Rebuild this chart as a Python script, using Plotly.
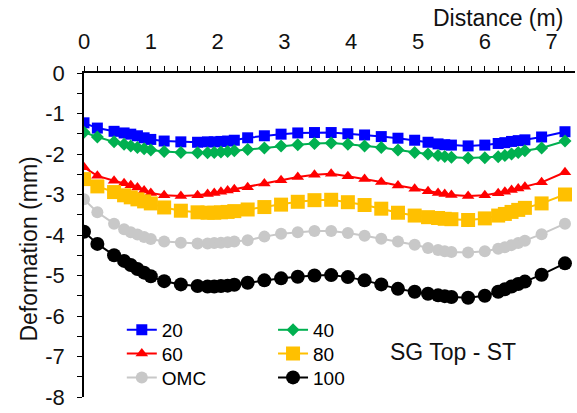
import plotly.graph_objects as go

distance = [0, 0.2, 0.45, 0.6, 0.7, 0.8, 0.9, 1.0, 1.2, 1.45, 1.7, 1.85, 1.95, 2.05, 2.15, 2.25,
            2.45, 2.7, 2.95, 3.2, 3.45, 3.7, 3.95, 4.2, 4.45, 4.7, 4.95, 5.15, 5.3, 5.4, 5.5,
            5.75, 6.0, 6.2, 6.3, 6.4, 6.5, 6.6, 6.85, 7.2]

s20 = [-1.23, -1.36, -1.44, -1.48, -1.51, -1.55, -1.60, -1.64, -1.68, -1.70, -1.71, -1.70, -1.70,
       -1.69, -1.68, -1.66, -1.60, -1.55, -1.51, -1.48, -1.47, -1.47, -1.50, -1.53, -1.57, -1.61,
       -1.66, -1.71, -1.75, -1.77, -1.78, -1.80, -1.78, -1.74, -1.72, -1.69, -1.67, -1.65, -1.58, -1.45]

s40 = [-1.46, -1.58, -1.70, -1.76, -1.80, -1.84, -1.87, -1.90, -1.94, -1.96, -1.97, -1.97, -1.96,
       -1.95, -1.94, -1.92, -1.89, -1.85, -1.80, -1.77, -1.74, -1.73, -1.76, -1.80, -1.84, -1.90,
       -1.96, -2.00, -2.04, -2.06, -2.08, -2.10, -2.09, -2.07, -2.04, -2.00, -1.96, -1.92, -1.85, -1.68]

s60 = [-2.33, -2.54, -2.66, -2.72, -2.77, -2.83, -2.90, -2.96, -3.02, -3.04, -3.02, -2.99, -2.96,
       -2.93, -2.90, -2.87, -2.82, -2.73, -2.65, -2.57, -2.51, -2.49, -2.55, -2.62, -2.69, -2.78,
       -2.86, -2.92, -2.96, -2.99, -3.01, -3.04, -3.02, -2.97, -2.93, -2.89, -2.85, -2.81, -2.70, -2.45]

s80 = [-2.62, -2.80, -2.94, -3.02, -3.07, -3.12, -3.17, -3.22, -3.32, -3.40, -3.44, -3.45, -3.45,
       -3.44, -3.43, -3.41, -3.37, -3.31, -3.25, -3.18, -3.14, -3.13, -3.19, -3.26, -3.35, -3.45,
       -3.52, -3.56, -3.58, -3.60, -3.61, -3.63, -3.59, -3.52, -3.48, -3.43, -3.38, -3.33, -3.22, -3.00]

omc = [-3.12, -3.44, -3.72, -3.86, -3.93, -3.99, -4.05, -4.10, -4.16, -4.19, -4.21, -4.21, -4.20,
       -4.19, -4.18, -4.16, -4.13, -4.04, -3.97, -3.93, -3.90, -3.90, -3.95, -4.02, -4.09, -4.16,
       -4.24, -4.32, -4.37, -4.40, -4.42, -4.43, -4.40, -4.34, -4.30, -4.25, -4.20, -4.14, -3.98, -3.72]

s100 = [-3.92, -4.22, -4.50, -4.64, -4.74, -4.84, -4.93, -5.02, -5.14, -5.22, -5.26, -5.27, -5.27,
        -5.26, -5.25, -5.23, -5.18, -5.12, -5.07, -5.03, -5.00, -4.99, -5.04, -5.12, -5.22, -5.33,
        -5.40, -5.45, -5.49, -5.51, -5.53, -5.55, -5.50, -5.40, -5.34, -5.27, -5.21, -5.15, -4.98, -4.70]

names = ["20", "40", "60", "80", "OMC", "100"]
values = [s20, s40, s60, s80, omc, s100]

x_ticks = [0, 1, 2, 3, 4, 5, 6, 7]
y_ticks = [0, -1, -2, -3, -4, -5, -6, -7, -8]
y_ticktext = ["0", "-1", "-2", "-3", "-4", "-5", "-6", "-7", "-8"]

colors = ["#0000FF", "#00B050", "#FF0000", "#FFC000", "#C8C8C8", "#000000"]
symbols = ["square", "diamond", "triangle-up", "square", "circle", "circle"]
sizes = [11, 10, 11, 14, 12, 14]

# legend positions (paper coords): 20,40 / 60,80 / OMC,100
leg_x = [0.077, 0.385, 0.077, 0.385, 0.077, 0.385]
leg_y = [0.207, 0.207, 0.134, 0.134, 0.060, 0.060]

FONT = "Arial, Liberation Sans, sans-serif"

fig = go.Figure()
for i, (n, v, c, s, sz) in enumerate(zip(names, values, colors, symbols, sizes)):
    fig.add_trace(go.Scatter(
        x=distance, y=v, name=n, mode="lines+markers",
        line=dict(color=c, width=2),
        marker=dict(color=c, symbol=s, size=sz, line=dict(width=0)),
        legend="legend" if i == 0 else f"legend{i+1}",
    ))

layout_legends = {}
for i in range(6):
    key = "legend" if i == 0 else f"legend{i+1}"
    layout_legends[key] = dict(
        x=leg_x[i], y=leg_y[i], xanchor="left", yanchor="middle",
        bgcolor="rgba(0,0,0,0)", borderwidth=0,
        font=dict(family=FONT, size=19, color="#000"),
        itemwidth=30,
    )

fig.update_layout(
    width=577, height=413,
    margin=dict(l=84, r=2, t=73, b=16),
    paper_bgcolor="white", plot_bgcolor="white",
    showlegend=True,
    font=dict(family=FONT, size=22, color="#000"),
    **layout_legends,
    xaxis=dict(
        side="top", range=[0, 7.35], tickvals=x_ticks,
        showgrid=False, zeroline=False,
        showline=True, linecolor="#000", linewidth=1.5,
        ticks="outside", ticklen=5, tickcolor="#000", tickwidth=1.2,
        minor=dict(dtick=0.2, tick0=0, ticks="outside", ticklen=5, tickcolor="#000", tickwidth=1.2, showgrid=False),
        tickfont=dict(family=FONT, size=22, color="#111"),
        ticklabelstandoff=8,
    ),
    yaxis=dict(
        range=[-8, 0], tickvals=y_ticks, ticktext=y_ticktext,
        showgrid=False, zeroline=False,
        showline=True, linecolor="#000", linewidth=1.5,
        ticks="outside", ticklen=5, tickcolor="#000", tickwidth=1.2,
        minor=dict(dtick=0.5, tick0=0, ticks="outside", ticklen=5, tickcolor="#000", tickwidth=1.2, showgrid=False),
        tickfont=dict(family=FONT, size=22, color="#111"),
        ticklabelstandoff=8,
    ),
    annotations=[
        dict(text="Distance (m)", xref="paper", yref="paper", x=0.98, y=1.17,
             xanchor="right", yanchor="middle", showarrow=False,
             font=dict(family=FONT, size=23, color="#111")),
        dict(text="Deformation (mm)", xref="paper", yref="paper", x=-0.112, y=0.455,
             xanchor="center", yanchor="middle", textangle=-90, showarrow=False,
             font=dict(family=FONT, size=23, color="#111")),
        dict(text="SG Top - ST", xref="paper", yref="paper", x=0.619, y=0.139,
             xanchor="left", yanchor="middle", showarrow=False,
             font=dict(family=FONT, size=23, color="#111")),
    ],
)

fig.write_html("out.html")
